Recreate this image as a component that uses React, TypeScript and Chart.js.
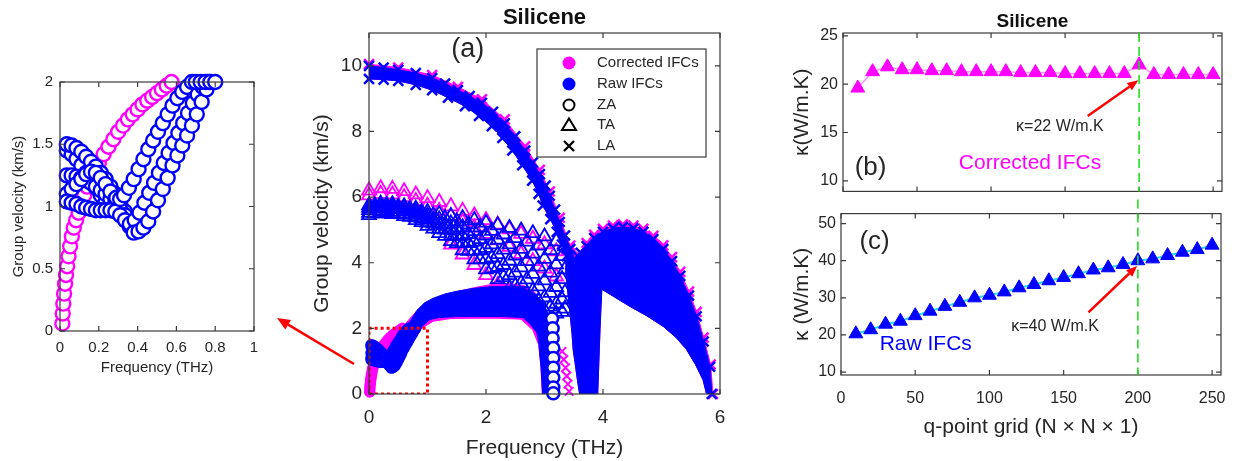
import React, { useEffect, useRef } from "react";
import { Chart, registerables } from "chart.js";

Chart.register(...registerables);

type Pt = [number, number];

const FONT = "'Liberation Sans', Arial, Helvetica, sans-serif";
const INK = "#262626";
const FRAME = "#3a3a3a";
const MAGENTA = "#ff00ff";
const BLUE = "#0000ff";
const RED = "#ff0000";
const GREEN = "#1ee01e";

// ---------- (a) group velocity (km/s) vs frequency (THz) ----------

// ZA, low-frequency corner, corrected IFCs
const zaCorrLow: Pt[] = [
  [0.012, 0.06], [0.014, 0.14], [0.017, 0.22], [0.021, 0.3], [0.026, 0.38], [0.031, 0.45],
  [0.037, 0.52], [0.044, 0.6], [0.052, 0.68], [0.061, 0.76], [0.071, 0.83], [0.083, 0.89],
  [0.096, 0.95], [0.11, 1.02], [0.125, 1.09], [0.14, 1.16], [0.16, 1.23], [0.18, 1.29],
  [0.2, 1.35], [0.225, 1.42], [0.25, 1.48], [0.275, 1.54], [0.3, 1.6], [0.325, 1.65],
  [0.35, 1.7], [0.375, 1.74], [0.4, 1.78], [0.425, 1.82], [0.45, 1.85], [0.475, 1.88],
  [0.5, 1.91], [0.525, 1.94], [0.55, 1.97], [0.575, 2.0],
];

// ZA, low-frequency corner, raw IFCs (several q directions)
const zaRawRowE: Pt[] = [
  [0.035, 1.45], [0.06, 1.42], [0.085, 1.38], [0.11, 1.33], [0.135, 1.27], [0.16, 1.21],
  [0.185, 1.15], [0.21, 1.09], [0.235, 1.04], [0.26, 1.0], [0.285, 0.98],
];
const zaRawRowA: Pt[] = [
  [0.035, 1.5], [0.06, 1.49], [0.085, 1.47], [0.11, 1.44], [0.135, 1.4], [0.16, 1.36],
  [0.185, 1.32], [0.21, 1.27], [0.235, 1.22], [0.26, 1.16], [0.285, 1.1], [0.31, 1.03],
  [0.335, 0.96], [0.36, 0.89], [0.38, 0.83],
];
const zaRawRowB: Pt[] = [
  [0.035, 1.25], [0.06, 1.25], [0.085, 1.24], [0.11, 1.23], [0.135, 1.21], [0.16, 1.19],
  [0.185, 1.16], [0.21, 1.13], [0.235, 1.1], [0.26, 1.06], [0.285, 1.02], [0.31, 0.98],
  [0.335, 0.93], [0.36, 0.87],
];
const zaRawRowD: Pt[] = [
  [0.035, 1.1], [0.06, 1.14], [0.085, 1.18], [0.11, 1.22], [0.135, 1.26], [0.16, 1.28],
  [0.185, 1.27], [0.21, 1.23], [0.235, 1.18], [0.26, 1.12], [0.285, 1.06],
];
const zaRawRowC: Pt[] = [
  [0.035, 1.04], [0.06, 1.03], [0.085, 1.02], [0.11, 1.0], [0.135, 0.99], [0.16, 0.98],
  [0.185, 0.97], [0.21, 0.97], [0.235, 0.97], [0.26, 0.97], [0.285, 0.96], [0.31, 0.93],
  [0.335, 0.89], [0.36, 0.84],
];
const zaRawRise1: Pt[] = [
  [0.29, 1.07], [0.31, 1.06], [0.33, 1.09], [0.355, 1.15], [0.38, 1.22], [0.405, 1.3],
  [0.43, 1.38], [0.455, 1.46], [0.48, 1.53], [0.505, 1.6], [0.53, 1.67], [0.555, 1.74],
  [0.58, 1.81], [0.605, 1.87], [0.63, 1.92], [0.655, 1.96], [0.68, 2.0],
];
const zaRawRise2: Pt[] = [
  [0.36, 0.86], [0.385, 0.89], [0.41, 0.95], [0.435, 1.03], [0.46, 1.11], [0.485, 1.19],
  [0.51, 1.27], [0.535, 1.35], [0.56, 1.43], [0.585, 1.51], [0.61, 1.59], [0.635, 1.67],
  [0.66, 1.75], [0.685, 1.83], [0.71, 1.9], [0.735, 1.96], [0.76, 2.0],
];
const zaRawRise3: Pt[] = [
  [0.38, 0.79], [0.405, 0.8], [0.43, 0.83], [0.455, 0.88], [0.48, 0.96], [0.505, 1.05],
  [0.53, 1.14], [0.555, 1.23], [0.58, 1.33], [0.605, 1.41], [0.63, 1.49], [0.655, 1.57],
  [0.68, 1.65], [0.705, 1.74], [0.73, 1.84], [0.755, 1.94], [0.77, 2.0],
];
const zaRawTop: Pt[] = [[0.7, 2.0], [0.725, 2.0], [0.75, 2.0], [0.775, 2.0], [0.8, 2.0]];

// ZA band above 0.6 THz (outline: upper edge, lower edge)
const zaUpperCorr: Pt[] = [
  [0.58, 2.05], [0.7, 2.3], [0.85, 2.6], [1.0, 2.8], [1.2, 2.97], [1.5, 3.12], [1.8, 3.24],
  [2.1, 3.34], [2.4, 3.37], [2.65, 3.3], [2.82, 3.12], [2.95, 2.8], [3.02, 2.4], [3.06, 1.6],
  [3.08, 0.8], [3.09, 0.0],
];
const zaLowerCorr: Pt[] = [
  [0.5, 1.75], [0.62, 1.85], [0.75, 1.85], [0.9, 2.0], [1.1, 2.22], [1.4, 2.3], [1.8, 2.31],
  [2.2, 2.31], [2.6, 2.28], [2.8, 1.95], [2.9, 1.5], [2.94, 0.8], [2.96, 0.0],
];
const zaUpperRaw: Pt[] = [
  [0.55, 1.85], [0.7, 2.2], [0.82, 2.55], [0.95, 2.78], [1.1, 2.92], [1.3, 3.05], [1.5, 3.13],
  [1.8, 3.22], [2.1, 3.27], [2.4, 3.27], [2.63, 3.22], [2.8, 3.1], [2.95, 2.85], [3.05, 2.5],
  [3.1, 2.2], [3.07, 1.5], [3.05, 0.8], [3.04, 0.0],
];
const zaLowerRaw: Pt[] = [
  [0.36, 0.72], [0.42, 0.72], [0.5, 0.9], [0.6, 1.15], [0.7, 1.45], [0.82, 1.75], [0.9, 2.05],
  [1.04, 2.27], [1.2, 2.33], [1.5, 2.36], [2.0, 2.36], [2.3, 2.36], [2.63, 2.33], [2.75, 2.15],
  [2.87, 1.87], [2.9, 1.6], [2.94, 0.83], [2.97, 0.0],
];
// ZA drop near the zone edge, raw IFCs
const zaDropRaw: Pt[] = [
  [3.13, 2.3], [3.14, 2.0], [3.14, 1.7], [3.15, 1.4], [3.15, 1.1], [3.15, 0.8], [3.15, 0.5],
  [3.15, 0.2], [3.15, 0.02],
];

// TA fan, corrected IFCs
const taCorr1: Pt[] = [
  [0, 6.2], [0.2, 6.27], [0.4, 6.25], [0.6, 6.18], [0.8, 6.08], [1.0, 5.97], [1.2, 5.85],
  [1.4, 5.72], [1.6, 5.58], [1.8, 5.44], [2.0, 5.3], [2.2, 5.16], [2.4, 5.02], [2.6, 4.88],
  [2.8, 4.73], [3.0, 4.56], [3.2, 4.35],
];
const taCorr2: Pt[] = [
  [0, 6.05], [0.2, 6.1], [0.4, 6.08], [0.6, 6.0], [0.8, 5.88], [1.0, 5.74], [1.2, 5.58],
  [1.4, 5.42], [1.6, 5.25], [1.8, 5.07], [2.0, 4.88], [2.2, 4.68], [2.4, 4.48], [2.6, 4.27],
  [2.8, 4.05], [3.0, 3.82], [3.2, 3.58],
];
const taCorr3: Pt[] = [
  [1.4, 4.55], [1.6, 4.25], [1.8, 3.93], [2.0, 3.62], [2.2, 3.32], [2.4, 3.05], [2.6, 2.8],
];
// TA fan, raw IFCs
const taRaw1: Pt[] = [
  [0, 5.75], [0.2, 5.8], [0.4, 5.78], [0.6, 5.72], [0.8, 5.65], [1.0, 5.55], [1.2, 5.48],
  [1.4, 5.42], [1.6, 5.36], [1.8, 5.3], [2.0, 5.22], [2.2, 5.14], [2.4, 5.06], [2.6, 4.98],
  [2.8, 4.9], [3.0, 4.8], [3.2, 4.65], [3.35, 4.5],
];
const taRaw1b: Pt[] = [
  [0.1, 5.74], [0.3, 5.76], [0.5, 5.71], [0.7, 5.65], [0.9, 5.55], [1.1, 5.45], [1.3, 5.36],
  [1.5, 5.26], [1.7, 5.17], [1.9, 5.08], [2.1, 4.97], [2.3, 4.86], [2.5, 4.75], [2.7, 4.64],
  [2.9, 4.52], [3.1, 4.38], [3.3, 4.2],
];
const taRaw2: Pt[] = [
  [0, 5.68], [0.2, 5.73], [0.4, 5.71], [0.6, 5.65], [0.8, 5.56], [1.0, 5.44], [1.2, 5.32],
  [1.4, 5.2], [1.6, 5.08], [1.8, 4.96], [2.0, 4.83], [2.2, 4.7], [2.4, 4.56], [2.6, 4.42],
  [2.8, 4.28], [3.0, 4.12], [3.2, 3.95], [3.35, 3.8],
];
const taRaw2b: Pt[] = [
  [0.1, 5.67], [0.3, 5.68], [0.5, 5.64], [0.7, 5.56], [0.9, 5.45], [1.1, 5.31], [1.3, 5.17],
  [1.5, 5.02], [1.7, 4.87], [1.9, 4.72], [2.1, 4.56], [2.3, 4.4], [2.5, 4.22], [2.7, 4.05],
  [2.9, 3.88], [3.1, 3.7], [3.3, 3.5],
];
const taRaw3: Pt[] = [
  [0, 5.6], [0.2, 5.65], [0.4, 5.63], [0.6, 5.57], [0.8, 5.47], [1.0, 5.33], [1.2, 5.17],
  [1.4, 5.0], [1.6, 4.82], [1.8, 4.64], [2.0, 4.45], [2.2, 4.26], [2.4, 4.06], [2.6, 3.86],
  [2.8, 3.66], [3.0, 3.46], [3.2, 3.26], [3.35, 3.1],
];
const taRaw3b: Pt[] = [
  [0.1, 5.59], [0.3, 5.6], [0.5, 5.56], [0.7, 5.48], [0.9, 5.35], [1.1, 5.19], [1.3, 5.01],
  [1.5, 4.81], [1.7, 4.6], [1.9, 4.38], [2.1, 4.16], [2.3, 3.93], [2.5, 3.7], [2.7, 3.49],
  [2.9, 3.28], [3.1, 3.08], [3.3, 2.88],
];
const taRaw4: Pt[] = [
  [0, 5.52], [0.2, 5.57], [0.4, 5.55], [0.6, 5.49], [0.8, 5.38], [1.0, 5.22], [1.2, 5.03],
  [1.4, 4.83], [1.6, 4.6], [1.8, 4.37], [2.0, 4.12], [2.2, 3.87], [2.4, 3.62], [2.6, 3.38],
  [2.8, 3.15], [3.0, 2.94], [3.2, 2.75], [3.35, 2.6],
];
const taRaw4b: Pt[] = [
  [0.1, 5.51], [0.3, 5.52], [0.5, 5.49], [0.7, 5.4], [0.9, 5.24], [1.1, 5.04], [1.3, 4.82],
  [1.5, 4.6], [1.7, 4.36], [1.9, 4.1], [2.1, 3.83], [2.3, 3.56], [2.5, 3.3], [2.7, 3.06],
  [2.9, 2.84], [3.1, 2.66], [3.3, 2.5],
];
const taRaw5: Pt[] = [
  [0, 5.45], [0.2, 5.5], [0.4, 5.48], [0.6, 5.42], [0.8, 5.3], [1.0, 5.12], [1.2, 4.9],
  [1.4, 4.66], [1.6, 4.38], [1.8, 4.1], [2.0, 3.8], [2.2, 3.5], [2.4, 3.22], [2.6, 2.95],
  [2.8, 2.72], [3.0, 2.55], [3.2, 2.45],
];

// LA band and the folded branch beyond 3.5 THz
const laUpperCorr: Pt[] = [
  [0, 10.05], [0.5, 9.95], [1.08, 9.72], [1.52, 9.36], [1.93, 8.98], [2.32, 8.37], [2.67, 7.55],
  [2.92, 6.83], [3.09, 6.17], [3.26, 5.37], [3.44, 4.52], [3.54, 4.15],
];
const domeUpperCorr: Pt[] = [
  [3.57, 4.25], [3.72, 4.6], [3.85, 4.85], [4.0, 5.03], [4.17, 5.13], [4.34, 5.17], [4.52, 5.13],
  [4.69, 5.03], [4.86, 4.82], [5.03, 4.53], [5.18, 4.17], [5.32, 3.72], [5.47, 3.12], [5.6, 2.5],
  [5.72, 1.72], [5.84, 0.9], [5.88, 0.0],
];
const laDropCorr: Pt[] = [
  [3.3, 1.3], [3.33, 1.05], [3.36, 0.8], [3.38, 0.55], [3.4, 0.3], [3.42, 0.08],
];
const laUpperRaw: Pt[] = [
  [0.0, 10.0], [0.25, 9.95], [0.5, 9.88], [0.8, 9.78], [1.08, 9.63], [1.3, 9.46], [1.52, 9.26],
  [1.72, 9.08], [1.93, 8.87], [2.12, 8.6], [2.32, 8.25], [2.5, 7.85], [2.67, 7.42], [2.8, 7.05],
  [2.92, 6.7], [3.02, 6.35], [3.09, 6.04], [3.18, 5.62], [3.26, 5.24], [3.35, 4.83],
  [3.44, 4.42], [3.52, 4.1],
];
const laLowerRaw: Pt[] = [
  [0, 9.6], [0.25, 9.58], [0.5, 9.54], [0.8, 9.42], [1.08, 9.26], [1.35, 9.03], [1.64, 8.77],
  [1.88, 8.47], [2.1, 8.16], [2.28, 7.8], [2.45, 7.42], [2.62, 6.97], [2.79, 6.5], [2.9, 6.1],
  [2.97, 5.74], [3.1, 5.33], [3.21, 4.94], [3.3, 4.55], [3.38, 4.2],
];
const massLeftRaw: Pt[] = [
  [3.36, 3.8], [3.38, 3.4], [3.41, 2.9], [3.44, 2.37], [3.47, 1.85], [3.49, 1.35], [3.53, 0.85],
  [3.57, 0.33], [3.6, 0.0],
];
const notchRaw: Pt[] = [[3.97, 2.8], [3.95, 2.0], [3.93, 1.0], [3.91, 0.0]];
const domeLowerRaw: Pt[] = [
  [3.98, 3.19], [4.2, 2.95], [4.46, 2.67], [4.75, 2.38], [5.03, 2.06], [5.25, 1.72], [5.43, 1.35],
  [5.58, 0.9], [5.71, 0.43], [5.77, 0.0],
];
const domeUpperRaw: Pt[] = [
  [3.57, 4.2], [3.62, 4.3], [3.72, 4.51], [3.85, 4.75], [4.0, 4.94], [4.17, 5.05], [4.34, 5.09],
  [4.52, 5.05], [4.69, 4.94], [4.86, 4.72], [5.03, 4.42], [5.18, 4.05], [5.32, 3.6], [5.47, 3.0],
  [5.6, 2.37], [5.72, 1.6], [5.83, 0.83], [5.86, 0.0],
];

// zoom window shown in the inset
const zoomWindow: Pt[] = [[0, 0], [1, 0], [1, 2], [0, 2], [0, 0]];

const legendLabels = ["Corrected IFCs", "Raw IFCs", "ZA", "TA", "LA"];

// ---------- (b), (c) thermal conductivity vs q-point grid ----------
const qGrid = [10, 20, 30, 40, 50, 60, 70, 80, 90, 100, 110, 120, 130, 140, 150, 160, 170, 180, 190, 200, 210, 220, 230, 240, 250];
const kappaCorrected = [19.6, 21.3, 21.8, 21.5, 21.5, 21.4, 21.4, 21.3, 21.3, 21.3, 21.3, 21.2, 21.2, 21.2, 21.1, 21.1, 21.1, 21.1, 21.1, 22, 21.0, 21.0, 21.0, 21.0, 21.0];
const kappaRaw = [20.3, 21.4, 22.9, 23.7, 25.2, 26.4, 27.7, 28.8, 30.0, 30.7, 31.6, 32.7, 33.6, 34.6, 35.5, 36.5, 37.5, 38.1, 39.0, 40, 40.5, 41.4, 42.3, 43.0, 44.2];
const chosenGrid = 200;

// ---------- helpers ----------
const xy = (pts: Pt[]) => pts.map(([x, y]) => ({ x, y }));
const rev = (pts: Pt[]) => pts.slice().reverse();
const closed = (pts: Pt[]) => [...pts, pts[0]];
const tickText = (v: number) => String(Math.round(v * 100) / 100);

function drawArrow(ctx: CanvasRenderingContext2D, x1: number, y1: number, x2: number, y2: number, color: string, width: number, head: number, half: number) {
  const dx = x2 - x1, dy = y2 - y1;
  const len = Math.hypot(dx, dy);
  const ux = dx / len, uy = dy / len;
  const bx = x2 - ux * head, by = y2 - uy * head;
  ctx.save();
  ctx.strokeStyle = color;
  ctx.lineWidth = width;
  ctx.beginPath();
  ctx.moveTo(x1, y1);
  ctx.lineTo(bx, by);
  ctx.stroke();
  ctx.fillStyle = color;
  ctx.beginPath();
  ctx.moveTo(x2, y2);
  ctx.lineTo(bx - uy * half, by + ux * half);
  ctx.lineTo(bx + uy * half, by - ux * half);
  ctx.closePath();
  ctx.fill();
  ctx.restore();
}

// MATLAB-like frame with inward ticks on all four sides
const framePlugin = {
  id: "frameBox",
  afterDatasetsDraw(chart: any) {
    const { ctx, chartArea: a } = chart;
    const sx = chart.scales.x, sy = chart.scales.y;
    const L = 5;
    ctx.save();
    ctx.strokeStyle = FRAME;
    ctx.lineWidth = 1.2;
    ctx.beginPath();
    for (const t of sx.ticks) {
      const p = sx.getPixelForValue(t.value);
      ctx.moveTo(p, a.bottom); ctx.lineTo(p, a.bottom - L);
      ctx.moveTo(p, a.top); ctx.lineTo(p, a.top + L);
    }
    for (const t of sy.ticks) {
      const p = sy.getPixelForValue(t.value);
      ctx.moveTo(a.left, p); ctx.lineTo(a.left + L, p);
      ctx.moveTo(a.right, p); ctx.lineTo(a.right - L, p);
    }
    ctx.stroke();
    ctx.strokeRect(a.left, a.top, a.right - a.left, a.bottom - a.top);
    ctx.restore();
  },
};

type Note = { x: number; y: number; text: string; color?: string; size: number; bold?: boolean };
type Arrow = { from: Pt; to: Pt };
type NotesCfg = {
  title?: { text: string; size: number; y: number };
  notes?: Note[];
  arrows?: Arrow[];
  vline?: { x: number; extendTop: number };
  legend?: boolean;
};

function notesPlugin(cfg: NotesCfg) {
  return {
    id: "figureNotes",
    afterDatasetsDraw(chart: any) {
      const { ctx, chartArea: a } = chart;
      const sx = chart.scales.x, sy = chart.scales.y;
      ctx.save();
      if (cfg.vline) {
        const px = sx.getPixelForValue(cfg.vline.x);
        ctx.strokeStyle = GREEN;
        ctx.lineWidth = 1.6;
        ctx.setLineDash([9, 5]);
        ctx.beginPath();
        ctx.moveTo(px, a.top - cfg.vline.extendTop);
        ctx.lineTo(px, a.bottom);
        ctx.stroke();
        ctx.setLineDash([]);
      }
      for (const ar of cfg.arrows || []) {
        drawArrow(ctx, sx.getPixelForValue(ar.from[0]), sy.getPixelForValue(ar.from[1]),
          sx.getPixelForValue(ar.to[0]), sy.getPixelForValue(ar.to[1]), RED, 2.5, 11, 4.5);
      }
      ctx.textAlign = "center";
      ctx.textBaseline = "middle";
      for (const n of cfg.notes || []) {
        ctx.font = `${n.bold ? "bold " : ""}${n.size}px ${FONT}`;
        ctx.fillStyle = n.color || INK;
        ctx.fillText(n.text, sx.getPixelForValue(n.x), sy.getPixelForValue(n.y));
      }
      if (cfg.title) {
        ctx.font = `bold ${cfg.title.size}px ${FONT}`;
        ctx.fillStyle = "#111";
        ctx.fillText(cfg.title.text, (a.left + a.right) / 2, cfg.title.y);
      }
      if (cfg.legend) {
        const x0 = a.left + 168, y0 = a.top + 16, w = 169, h = 108;
        ctx.fillStyle = "#fff";
        ctx.fillRect(x0, y0, w, h);
        ctx.strokeStyle = FRAME;
        ctx.lineWidth = 1.2;
        ctx.strokeRect(x0, y0, w, h);
        const mx = x0 + 32, tx = x0 + 60;
        const rows = [14, 35, 56, 76, 97].map((r) => y0 + r);
        ctx.textAlign = "left";
        ctx.font = `15px ${FONT}`;
        ctx.fillStyle = INK;
        legendLabels.forEach((label, i) => ctx.fillText(label, tx, rows[i]));
        ctx.fillStyle = MAGENTA;
        ctx.beginPath(); ctx.arc(mx, rows[0], 6.5, 0, Math.PI * 2); ctx.fill();
        ctx.fillStyle = BLUE;
        ctx.beginPath(); ctx.arc(mx, rows[1], 6.5, 0, Math.PI * 2); ctx.fill();
        ctx.strokeStyle = "#000";
        ctx.lineWidth = 2;
        ctx.beginPath(); ctx.arc(mx, rows[2], 5.5, 0, Math.PI * 2); ctx.stroke();
        ctx.beginPath();
        ctx.moveTo(mx, rows[3] - 6.5); ctx.lineTo(mx + 7, rows[3] + 5); ctx.lineTo(mx - 7, rows[3] + 5);
        ctx.closePath(); ctx.stroke();
        ctx.lineWidth = 2.3;
        ctx.beginPath();
        ctx.moveTo(mx - 5, rows[4] - 5); ctx.lineTo(mx + 5, rows[4] + 5);
        ctx.moveTo(mx + 5, rows[4] - 5); ctx.lineTo(mx - 5, rows[4] + 5);
        ctx.stroke();
      }
      ctx.restore();
    },
  };
}

type AxisOpts = {
  pos: "left" | "bottom"; min: number; max: number; step: number; fit: number;
  size: number; pad: number; title?: string; titleSize?: number; titlePad?: number; labels?: boolean;
};
function linAxis(o: AxisOpts) {
  return {
    type: "linear",
    position: o.pos,
    min: o.min,
    max: o.max,
    grid: { display: false, drawTicks: false },
    border: { display: false },
    ticks: {
      stepSize: o.step, includeBounds: false, display: o.labels !== false, autoSkip: false,
      maxRotation: 0, padding: o.pad, color: INK, font: { family: FONT, size: o.size },
      callback: (v: number) => tickText(v),
    },
    title: o.title
      ? { display: true, text: o.title, color: INK, font: { family: FONT, size: o.titleSize }, padding: { top: o.titlePad, bottom: o.titlePad } }
      : { display: false },
    afterFit: (s: any) => {
      if (o.pos === "left") s.width = o.fit;
      else s.height = o.fit;
    },
  };
}

function baseOptions(x: any, y: any, padTop: number, padRight: number) {
  return {
    animation: false,
    responsive: false,
    devicePixelRatio: 1,
    events: [],
    layout: { padding: { top: padTop, right: padRight, left: 0, bottom: 0 } },
    scales: { x, y },
    plugins: { legend: { display: false }, tooltip: { enabled: false }, title: { display: false } },
  };
}

function withOrder(layers: any[]) {
  return layers.map((d, i) => ({ ...d, order: layers.length - i }));
}

function marks(pts: Pt[], style: string, color: string, radius: number, bg: string, bw: number) {
  return {
    data: xy(pts), showLine: false, pointStyle: style, pointRadius: radius,
    pointBorderColor: color, pointBackgroundColor: bg, pointBorderWidth: bw, clip: false,
  };
}
function area(pts: Pt[], color: string) {
  return {
    data: xy(closed(pts)), showLine: true, fill: "shape", backgroundColor: color,
    borderColor: color, borderWidth: 1, pointRadius: 0, borderJoinStyle: "round",
  };
}

const zaRawLow: Pt[][] = [zaRawRowE, zaRawRowA, zaRawRowB, zaRawRowD, zaRawRowC, zaRawRise1, zaRawRise2, zaRawRise3, zaRawTop];
const taRaw: Pt[][] = [taRaw1, taRaw1b, taRaw2, taRaw2b, taRaw3, taRaw3b, taRaw4, taRaw4b, taRaw5];

// ---------- chart builders ----------
function buildInset(canvas: HTMLCanvasElement) {
  const layers: any[] = [];
  layers.push(marks(zaCorrLow, "circle", MAGENTA, 7, "#ffffff", 2.4));
  zaRawLow.forEach((b) => layers.push(marks(b, "circle", BLUE, 7, "#ffffff", 2.4)));
  return new Chart(canvas, {
    type: "line",
    data: { datasets: withOrder(layers) },
    options: baseOptions(
      linAxis({ pos: "bottom", min: 0, max: 1, step: 0.2, fit: 59, size: 15, pad: 8, title: "Frequency (THz)", titleSize: 15, titlePad: 13 }),
      linAxis({ pos: "left", min: 0, max: 2, step: 0.5, fit: 60, size: 15, pad: 7, title: "Group velocity (km/s)", titleSize: 15, titlePad: 10 }),
      22, 16
    ) as any,
    plugins: [framePlugin],
  } as any);
}

function buildMain(canvas: HTMLCanvasElement) {
  const laRawOutline = [...laUpperRaw, ...domeUpperRaw, ...rev(domeLowerRaw), ...notchRaw, ...rev(massLeftRaw), ...rev(laLowerRaw)];
  const laCorrOutline = [...laUpperCorr, ...domeUpperCorr, ...rev(domeLowerRaw), ...notchRaw, ...rev(massLeftRaw), ...rev(laLowerRaw)];
  const layers: any[] = [];
  // corrected IFCs underneath
  layers.push(area(laCorrOutline, MAGENTA));
  layers.push(marks(laUpperCorr, "crossRot", MAGENTA, 7, MAGENTA, 2.5));
  layers.push(marks(domeUpperCorr, "crossRot", MAGENTA, 7, MAGENTA, 2.5));
  layers.push(area([...zaUpperCorr, ...rev(zaLowerCorr)], MAGENTA));
  [taCorr1, taCorr2, taCorr3].forEach((p) => layers.push(marks(p, "triangle", MAGENTA, 8, "rgba(255,255,255,0)", 1.8)));
  layers.push(marks(zaCorrLow, "circle", MAGENTA, 5, MAGENTA, 1.5));
  layers.push(marks(laDropCorr, "crossRot", MAGENTA, 6, MAGENTA, 2));
  // raw IFCs on top
  layers.push(area([...zaUpperRaw, ...rev(zaLowerRaw)], BLUE));
  taRaw.forEach((p) => layers.push(marks(p, "triangle", BLUE, 8, "rgba(255,255,255,0)", 1.8)));
  layers.push(area(laRawOutline, BLUE));
  layers.push(marks(laUpperRaw, "crossRot", BLUE, 7, BLUE, 2.5));
  layers.push(marks(laLowerRaw, "crossRot", BLUE, 7, BLUE, 2.5));
  layers.push(marks(domeUpperRaw, "crossRot", BLUE, 7, BLUE, 2.5));
  layers.push(marks(zaDropRaw, "circle", BLUE, 6, "#ffffff", 2.5));
  zaRawLow.forEach((b) => layers.push(marks(b, "circle", BLUE, 5, BLUE, 1.5)));
  layers.push({ data: xy(zoomWindow), showLine: true, fill: false, borderColor: RED, borderWidth: 3, borderDash: [3, 3], pointRadius: 0 });

  return new Chart(canvas, {
    type: "line",
    data: { datasets: withOrder(layers) },
    options: baseOptions(
      linAxis({ pos: "bottom", min: 0, max: 6, step: 2, fit: 67, size: 19, pad: 12, title: "Frequency (THz)", titleSize: 21, titlePad: 0 }),
      linAxis({ pos: "left", min: 0, max: 11, step: 2, fit: 79, size: 19, pad: 7, title: "Group velocity (km/s)", titleSize: 21, titlePad: 20 }),
      33, 20
    ) as any,
    plugins: [
      framePlugin,
      notesPlugin({
        title: { text: "Silicene", size: 22, y: 18 },
        notes: [{ x: 1.69, y: 10.49, text: "(a)", size: 27 }],
        legend: true,
      }),
    ],
  } as any);
}

const idxChosen = qGrid.indexOf(chosenGrid);

function buildKappaCorrected(canvas: HTMLCanvasElement) {
  const ds = {
    data: qGrid.map((q, i) => ({ x: q, y: kappaCorrected[i] })),
    showLine: true, borderColor: "rgba(255,110,255,0.75)", borderWidth: 1.5,
    pointStyle: "triangle", pointRadius: 8, pointBackgroundColor: MAGENTA, pointBorderColor: MAGENTA,
    pointBorderWidth: 1, clip: false,
  };
  return new Chart(canvas, {
    type: "line",
    data: { datasets: [ds] },
    options: baseOptions(
      linAxis({ pos: "bottom", min: 0, max: 256, step: 50, fit: 7, size: 16, pad: 14, labels: false }),
      linAxis({ pos: "left", min: 8.9, max: 25.3, step: 5, fit: 83, size: 16, pad: 5, title: "κ(W/m.K)", titleSize: 21, titlePad: 30 }),
      33, 19
    ) as any,
    plugins: [
      framePlugin,
      notesPlugin({
        title: { text: "Silicene", size: 19, y: 21.5 },
        vline: { x: chosenGrid, extendTop: 0 },
        arrows: [{ from: [165.3, 16.7], to: [199.5, 20.4] }],
        notes: [
          { x: 146.5, y: 15.58, text: `κ=${kappaCorrected[idxChosen]} W/m.K`, size: 16 },
          { x: 18.6, y: 11.3, text: "(b)", size: 26 },
          { x: 126.3, y: 11.78, text: "Corrected IFCs", size: 21, color: MAGENTA },
        ],
      }),
    ],
  } as any);
}

function buildKappaRaw(canvas: HTMLCanvasElement) {
  const ds = {
    data: qGrid.map((q, i) => ({ x: q, y: kappaRaw[i] })),
    showLine: true, borderColor: "#22d8ff", borderWidth: 2,
    pointStyle: "triangle", pointRadius: 8, pointBackgroundColor: BLUE, pointBorderColor: BLUE,
    pointBorderWidth: 1, clip: false,
  };
  return new Chart(canvas, {
    type: "line",
    data: { datasets: [ds] },
    options: baseOptions(
      linAxis({ pos: "bottom", min: 0, max: 256, step: 50, fit: 86, size: 16, pad: 14, title: "q-point grid (N × N × 1)", titleSize: 21, titlePad: 21 }),
      linAxis({ pos: "left", min: 9.2, max: 52.7, step: 10, fit: 81, size: 16, pad: 5, title: "κ (W/m.K)", titleSize: 21, titlePad: 30 }),
      14, 20
    ) as any,
    plugins: [
      framePlugin,
      notesPlugin({
        vline: { x: chosenGrid, extendTop: 14 },
        arrows: [{ from: [166.7, 26.1], to: [199.5, 38.6] }],
        notes: [
          { x: 144.2, y: 22.2, text: `κ=${kappaRaw[idxChosen]} W/m.K`, size: 16 },
          { x: 22.6, y: 45.2, text: "(c)", size: 26 },
          { x: 57.1, y: 17.4, text: "Raw IFCs", size: 21, color: BLUE },
        ],
      }),
    ],
  } as any);
}

function Panel(props: { left: number; top: number; width: number; height: number; build: (c: HTMLCanvasElement) => Chart }) {
  const ref = useRef<HTMLCanvasElement | null>(null);
  useEffect(() => {
    const chart = props.build(ref.current as HTMLCanvasElement);
    return () => chart.destroy();
  }, []);
  return (
    <canvas
      ref={ref}
      width={props.width}
      height={props.height}
      style={{ position: "absolute", left: props.left, top: props.top, width: props.width, height: props.height }}
    />
  );
}

export default function App() {
  // arrow from the zoom window in (a) to the enlarged view
  const tail: Pt = [354, 364];
  const tip: Pt = [277, 318];
  const dx = tip[0] - tail[0], dy = tip[1] - tail[1];
  const len = Math.hypot(dx, dy);
  const ux = dx / len, uy = dy / len;
  const head = 13, half = 5.5;
  const bx = tip[0] - ux * head, by = tip[1] - uy * head;
  const headPts = `${tip[0]},${tip[1]} ${bx - uy * half},${by + ux * half} ${bx + uy * half},${by - ux * half}`;

  return (
    <div style={{ position: "absolute", left: 0, top: 0, width: 1241, height: 461, background: "#fff", overflow: "hidden", fontFamily: FONT }}>
      <Panel left={0} top={60} width={270} height={330} build={buildInset} />
      <Panel left={290} top={0} width={450} height={461} build={buildMain} />
      <Panel left={760} top={0} width={481} height={206} build={buildKappaCorrected} />
      <Panel left={760} top={199} width={481} height={262} build={buildKappaRaw} />
      <svg width={1241} height={461} style={{ position: "absolute", left: 0, top: 0, pointerEvents: "none" }}>
        <line x1={tail[0]} y1={tail[1]} x2={bx} y2={by} stroke={RED} strokeWidth={2.5} />
        <polygon points={headPts} fill={RED} />
      </svg>
    </div>
  );
}
